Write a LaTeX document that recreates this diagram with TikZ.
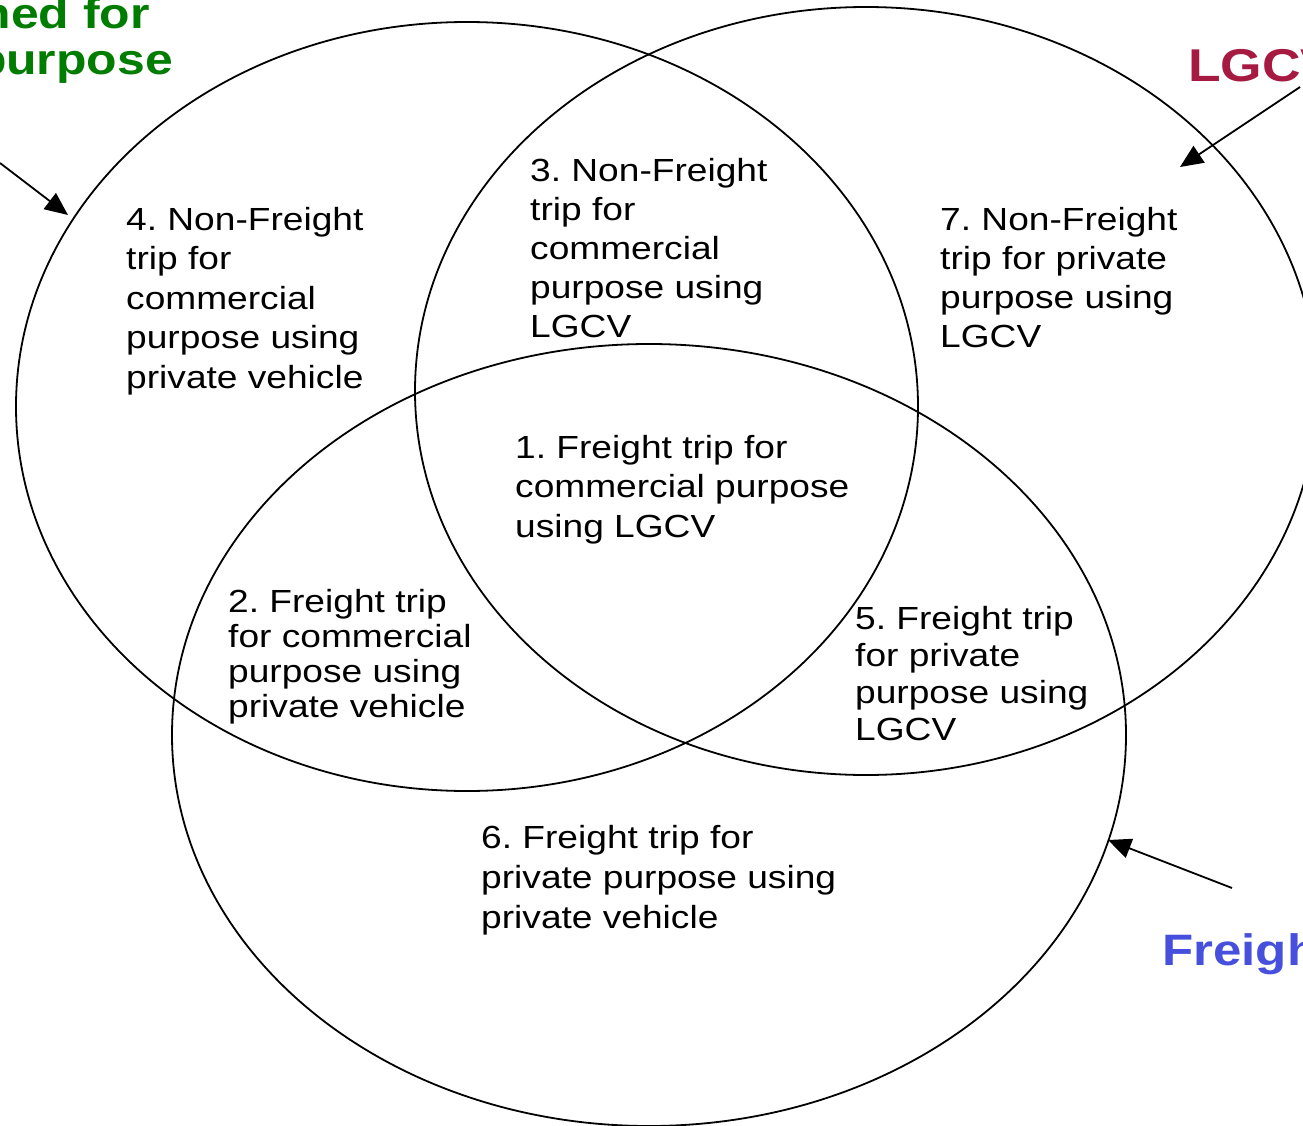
\documentclass[tikz,border=0pt]{standalone}
\usepackage{fontspec}
\setmainfont{Liberation Sans}[FakeStretch=1.16]
\usetikzlibrary{arrows.meta,shapes.geometric}
\definecolor{commgreen}{RGB}{0,125,0}
\definecolor{lgcvred}{RGB}{166,26,66}
\definecolor{freightblue}{RGB}{70,80,220}
\newcommand\regionlines[1]{\begin{tabular}[t]{@{}l@{}}#1\end{tabular}}
\frenchspacing
\begin{document}
\begin{tikzpicture}[x=1pt,y=-1pt,
  venn/.style={draw=black,line width=1.8pt,ellipse,inner sep=0pt},
  region/.style={anchor=base west,inner sep=0pt},
  setlabel/.style={inner sep=0pt,font=\bfseries},
  pointer/.style={line width=1.8pt,-{Triangle[length=23pt,width=20pt]}}]
\useasboundingbox (0,0) rectangle (1303,1126);
% sets
\node[venn,minimum width=902pt,minimum height=769pt] (commercial) at (467,406.5) {};
\node[venn,minimum width=902pt,minimum height=768pt] (lgcv) at (866,391) {};
\node[venn,minimum width=954pt,minimum height=782pt] (freight) at (649,735) {};
% regions
\node[region,font=\fontsize{32}{39.5}\selectfont] (r4) at (126,230) {\regionlines{4. Non-Freight\\trip for\\commercial\\purpose using\\private vehicle}};
\node[region,font=\fontsize{32}{38.8}\selectfont] (r3) at (530,182) {\regionlines{3. Non-Freight\\trip for\\commercial\\purpose using\\LGCV}};
\node[region,font=\fontsize{32}{39}\selectfont] (r7) at (940,230) {\regionlines{7. Non-Freight\\trip for private\\purpose using\\LGCV}};
\node[region,font=\fontsize{32}{39.5}\selectfont] (r1) at (515,458) {\regionlines{1. Freight trip for\\commercial purpose\\using LGCV}};
\node[region,font=\fontsize{32}{35.3}\selectfont] (r2) at (228,612) {\regionlines{2. Freight trip\\for commercial\\purpose using\\private vehicle}};
\node[region,font=\fontsize{32}{37.3}\selectfont] (r5) at (855,629) {\regionlines{5. Freight trip\\for private\\purpose using\\LGCV}};
\node[region,font=\fontsize{32}{40}\selectfont] (r6) at (481,848) {\regionlines{6. Freight trip for\\private purpose using\\private vehicle}};
% set labels
\node[setlabel,text=commgreen,anchor=base east,font=\fontsize{43}{46}\selectfont\bfseries] (glabA) at (150,29) {ned for};
\node[setlabel,text=commgreen,anchor=base east,font=\fontsize{43}{46}\selectfont\bfseries] (glabB) at (173,75) {purpose};
\node[setlabel,text=lgcvred,anchor=base west,font=\fontsize{46}{50}\selectfont\bfseries] (rlab) at (1188,82) {LGCV};
\node[setlabel,text=freightblue,anchor=base west,font=\fontsize{44}{50}\selectfont\bfseries] (blab) at (1162,965) {Freight};
% pointers
\coordinate (gS) at (0,163);
\coordinate (gT) at (68,215);
\coordinate (rS) at (1300,87);
\coordinate (rT) at (1180,167);
\coordinate (bS) at (1232,888);
\coordinate (bT) at (1108,840);
\draw[pointer] (gS) -- (gT);
\draw[pointer] (rS) -- (rT);
\draw[pointer] (bS) -- (bT);
\end{tikzpicture}
\end{document}
